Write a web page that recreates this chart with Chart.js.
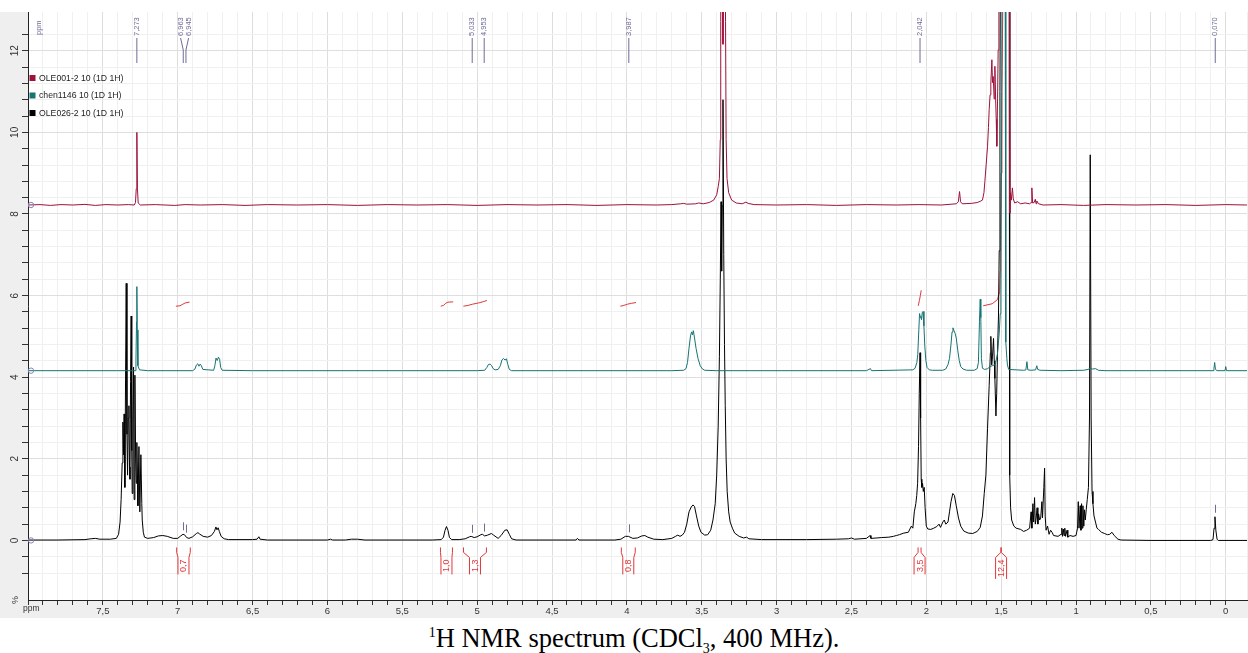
<!DOCTYPE html>
<html>
<head>
<meta charset="utf-8">
<script src="https://cdn.jsdelivr.net/npm/chart.js@4.4.1/dist/chart.umd.min.js"></script>
<style>
  body { margin: 0; background: #fff; }
  #wrap { position: relative; width: 1248px; height: 653px; }
  #chart { position: absolute; left: 0; top: 0; }
  #caption {
    position: absolute; left: 20px; width: 1228px; top: 623px;
    text-align: center; color: #000;
    font: 26.5px/30px "Liberation Serif", "Times New Roman", serif;
  }
  #caption sup, #caption sub { font-size: 14px; line-height: 0; }
</style>
</head>
<body>
<div id="wrap">
  <canvas id="chart" width="1248" height="618"></canvas>
  <div id="caption"><sup>1</sup>H NMR spectrum (CDCl<sub>3</sub>, 400 MHz).</div>
</div>
<script>
// axis ranges (ppm runs right to left)
const ppmMin = -0.142, ppmMax = 8.0;
const intMin = -1.46, intMax = 12.95;

const seriesNames = ['OLE001-2 10 (1D 1H)', 'chen1146 10 (1D 1H)', 'OLE026-2 10 (1D 1H)'];
const seriesColors = ['#9e1239', '#167473', '#000000'];
const seriesOffsets = [8.22, 4.16, 0];

// [ppm, intensity above the trace baseline]
const ole001 = [
  [8.00,0],[7.92,0.01],[7.85,-0.01],[7.78,0.01],[7.70,0],[7.62,0.015],[7.55,-0.01],[7.48,0.01],[7.40,0],[7.33,0.01],
  [7.29,0],[7.282,0.06],[7.277,0.4],[7.273,1.78],[7.269,0.4],[7.264,0.05],[7.25,0],[7.15,0.01],[7.02,-0.01],[6.95,0.01],
  [6.85,0],[6.70,0.01],[6.55,-0.01],[6.40,0.01],[6.20,0],[6.00,0.01],[5.80,-0.01],[5.60,0.01],[5.40,0],[5.20,0.01],
  [5.00,-0.01],[4.80,0.01],[4.60,0],[4.40,0.01],[4.20,-0.01],[4.00,0.01],[3.80,0],[3.70,0.01],[3.64,0.03],[3.62,0.04],
  [3.60,0.02],[3.54,0.03],[3.52,0.05],[3.49,0.03],[3.45,0.06],[3.42,0.12],[3.40,0.25],[3.39,0.45],[3.382,0.65],[3.376,1.6],
  [3.373,4.5],[3.370,8.5],[3.364,6.5],[3.358,3.94],[3.352,6.5],[3.345,8.5],[3.341,4.5],[3.337,1.6],[3.331,0.65],[3.32,0.3],
  [3.30,0.12],[3.27,0.05],[3.23,0.03],[3.205,0.07],[3.19,0.04],[3.15,0.01],[3.00,0],[2.80,0.01],[2.60,-0.01],[2.40,0.01],
  [2.20,0],[2.05,0.01],[1.90,0],[1.80,0.03],[1.786,0.08],[1.778,0.33],[1.771,0.08],[1.76,0.03],[1.70,0.04],[1.66,0.06],
  [1.64,0.09],[1.625,0.12],[1.615,0.3],[1.609,0.57],[1.60,1.0],[1.591,1.44],[1.585,1.9],[1.58,2.34],[1.574,2.7],[1.569,2.99],
  [1.562,3.56],[1.558,3.0],[1.553,3.15],[1.547,2.6],[1.542,3.4],[1.537,2.6],[1.533,2.1],[1.529,1.44],[1.524,2.6],[1.52,3.8],
  [1.515,5.5],[1.51,9],[1.50,14],[1.48,16],[1.46,16],[1.449,12],[1.445,6],[1.442,-0.2],[1.438,0.3],[1.432,0.12],
  [1.425,0.42],[1.419,0.15],[1.41,0.05],[1.39,0.08],[1.37,0.03],[1.34,0.05],[1.31,0.03],[1.30,0.06],[1.295,0.42],[1.29,0.05],
  [1.28,0.06],[1.272,0.14],[1.267,0.03],[1.262,0.1],[1.25,0.03],[1.22,0],[1.10,0.01],[0.95,-0.01],[0.80,0.01],[0.60,0],
  [0.40,0.01],[0.20,-0.01],[0.0,0.01],[-0.142,0]
];

const chen1146 = [
  [8.00,0],[7.40,0],[7.285,0],[7.279,0.25],[7.275,1.2],[7.273,2.06],[7.270,1.0],[7.266,0.12],[7.255,0.02],[7.20,0],
  [6.90,0],[6.885,0.04],[6.875,0.14],[6.866,0.17],[6.858,0.11],[6.850,0.16],[6.842,0.12],[6.832,0.03],[6.76,0.01],[6.752,0.12],
  [6.744,0.31],[6.736,0.25],[6.728,0.33],[6.720,0.28],[6.713,0.08],[6.703,0.01],[6.50,0],[5.50,0],[5.00,0],[4.95,0.01],
  [4.935,0.08],[4.925,0.15],[4.913,0.16],[4.903,0.12],[4.893,0.05],[4.88,0.02],[4.86,0.03],[4.845,0.12],[4.835,0.26],[4.824,0.3],
  [4.814,0.26],[4.804,0.29],[4.795,0.15],[4.785,0.03],[4.77,0],[3.70,0],[3.62,0.01],[3.605,0.05],[3.595,0.2],[3.585,0.55],
  [3.575,0.85],[3.568,0.95],[3.562,0.88],[3.556,0.98],[3.548,0.8],[3.538,0.55],[3.525,0.3],[3.51,0.12],[3.495,0.04],[3.48,0.01],
  [3.40,0],[2.40,0],[2.373,0.05],[2.366,0],[2.09,0.02],[2.075,0.06],[2.063,0.2],[2.057,0.4],[2.05,1.0],[2.045,1.4],
  [2.041,1.33],[2.036,1.3],[2.032,1.25],[2.027,1.42],[2.022,1.45],[2.016,1.1],[2.01,0.6],[2.003,0.25],[1.995,0.08],[1.98,0.02],
  [1.96,0.01],[1.89,0.01],[1.87,0.04],[1.855,0.15],[1.845,0.3],[1.835,0.65],[1.828,0.95],[1.822,1.05],[1.815,0.98],[1.808,0.92],
  [1.80,0.8],[1.79,0.5],[1.78,0.25],[1.77,0.1],[1.755,0.04],[1.73,0.01],[1.68,0.01],[1.66,0.05],[1.652,0.2],[1.645,1.2],
  [1.64,1.75],[1.636,1.3],[1.632,0.3],[1.625,0.06],[1.61,0.03],[1.59,0.05],[1.575,0.1],[1.56,0.12],[1.54,0.15],[1.525,0.4],
  [1.513,0.92],[1.506,1.4],[1.502,2.0],[1.497,6],[1.492,11],[1.485,14],[1.478,13],[1.473,9],[1.469,0.7],[1.462,0.3],
  [1.458,0.14],[1.45,0.03],[1.40,0.02],[1.35,0.01],[1.335,0.02],[1.328,0.22],[1.322,0.02],[1.30,0.01],[1.27,0.02],[1.262,0.12],
  [1.256,0.03],[1.24,0.01],[1.10,0],[0.95,0.01],[0.92,0.03],[0.905,0.06],[0.89,0.04],[0.87,0.05],[0.85,0.01],[0.80,0],
  [0.50,0],[0.085,0],[0.079,0.05],[0.074,0.2],[0.069,0.04],[0.06,0],[0.005,0],[0.0,0.1],[-0.005,0],[-0.142,0]
];

const ole026 = [
  [8.00,0.01],[7.80,0.01],[7.62,0.02],[7.58,0.04],[7.55,0.05],[7.52,0.03],[7.45,0.03],[7.41,0.05],[7.395,0.15],[7.385,0.45],
  [7.378,1.0],[7.371,1.9],[7.366,2.9],[7.362,2.1],[7.358,3.1],[7.353,1.3],[7.348,4.2],[7.344,6.3],[7.339,2.6],[7.335,1.6],
  [7.330,3.0],[7.326,3.3],[7.322,1.8],[7.319,1.5],[7.315,3.9],[7.311,5.5],[7.307,2.2],[7.304,1.15],[7.299,3.0],[7.295,4.25],
  [7.291,1.0],[7.286,4.05],[7.281,2.0],[7.277,1.4],[7.273,2.4],[7.269,1.6],[7.266,0.85],[7.259,2.3],[7.253,0.7],[7.246,2.1],
  [7.240,0.9],[7.237,0.5],[7.230,0.2],[7.222,0.08],[7.20,0.05],[7.16,0.07],[7.13,0.11],[7.10,0.12],[7.07,0.10],[7.03,0.05],
  [7.00,0.05],[6.98,0.11],[6.965,0.15],[6.955,0.14],[6.94,0.07],[6.925,0.05],[6.90,0.09],[6.875,0.17],[6.865,0.19],[6.855,0.16],
  [6.83,0.1],[6.80,0.08],[6.775,0.12],[6.755,0.22],[6.745,0.33],[6.738,0.26],[6.73,0.31],[6.722,0.22],[6.71,0.1],[6.69,0.04],
  [6.66,0.02],[6.50,0.02],[6.47,0.03],[6.458,0.09],[6.45,0.03],[6.40,0.01],[6.00,0.01],[5.98,0.03],[5.965,0.01],[5.88,0.01],
  [5.84,0.03],[5.80,0.03],[5.75,0.01],[5.30,0.01],[5.24,0.02],[5.225,0.08],[5.215,0.24],[5.205,0.34],[5.195,0.25],[5.185,0.07],
  [5.17,0.02],[5.12,0.02],[5.08,0.04],[5.05,0.09],[5.04,0.1],[5.02,0.07],[5.00,0.09],[4.975,0.14],[4.965,0.15],[4.95,0.11],
  [4.93,0.13],[4.905,0.17],[4.89,0.13],[4.86,0.05],[4.84,0.12],[4.815,0.25],[4.80,0.26],[4.785,0.15],[4.77,0.04],[4.74,0.01],
  [4.34,0.01],[4.33,0.05],[4.32,0.01],[4.08,0.01],[4.04,0.03],[4.01,0.1],[3.99,0.1],[3.96,0.05],[3.93,0.06],[3.90,0.11],
  [3.88,0.12],[3.86,0.08],[3.82,0.03],[3.76,0.02],[3.70,0.05],[3.675,0.1],[3.66,0.13],[3.645,0.1],[3.63,0.13],[3.615,0.2],
  [3.60,0.4],[3.585,0.7],[3.57,0.82],[3.558,0.87],[3.548,0.83],[3.535,0.6],[3.52,0.35],[3.505,0.2],[3.48,0.13],[3.46,0.14],
  [3.44,0.25],[3.425,0.5],[3.41,0.9],[3.40,1.6],[3.39,2.8],[3.382,4.5],[3.376,6.4],[3.371,8.3],[3.367,6.6],[3.363,8.2],
  [3.358,10.8],[3.353,7.0],[3.348,4.8],[3.343,3.3],[3.337,2.0],[3.33,1.2],[3.32,0.7],[3.31,0.45],[3.295,0.3],[3.28,0.18],
  [3.25,0.1],[3.22,0.06],[3.20,0.08],[3.185,0.04],[3.10,0.02],[2.80,0.02],[2.60,0.03],[2.52,0.04],[2.50,0.06],[2.48,0.03],
  [2.40,0.05],[2.375,0.12],[2.37,0.05],[2.33,0.06],[2.30,0.07],[2.25,0.08],[2.22,0.1],[2.20,0.12],[2.18,0.14],[2.15,0.18],
  [2.12,0.2],[2.10,0.35],[2.09,0.3],[2.08,0.7],[2.07,0.9],[2.064,1.1],[2.058,1.4],[2.052,2.3],[2.047,3.6],[2.042,4.6],
  [2.038,3.0],[2.034,1.5],[2.030,1.3],[2.025,1.4],[2.020,1.2],[2.014,1.3],[2.008,0.8],[2.00,0.35],[1.99,0.28],[1.97,0.27],
  [1.95,0.3],[1.93,0.34],[1.915,0.4],[1.905,0.32],[1.89,0.45],[1.88,0.5],[1.87,0.4],[1.855,0.45],[1.845,0.7],[1.835,0.95],
  [1.823,1.15],[1.812,1.1],[1.80,0.85],[1.785,0.55],[1.77,0.35],[1.75,0.23],[1.72,0.18],[1.69,0.17],[1.66,0.22],[1.64,0.32],
  [1.625,0.6],[1.613,1.15],[1.602,1.6],[1.591,2.75],[1.58,3.8],[1.572,4.6],[1.569,5.0],[1.563,4.3],[1.558,4.5],[1.551,4.95],
  [1.546,4.4],[1.542,3.97],[1.535,3.05],[1.53,3.6],[1.525,4.5],[1.518,5.5],[1.513,7.1],[1.508,11],[1.503,16],[1.49,19],
  [1.47,20],[1.455,18],[1.447,15],[1.444,6],[1.442,1.6],[1.437,0.8],[1.43,0.5],[1.415,0.35],[1.40,0.3],[1.37,0.27],
  [1.35,0.22],[1.33,0.25],[1.31,0.3],[1.30,0.7],[1.295,0.3],[1.288,0.9],[1.283,0.45],[1.277,1.05],[1.272,0.4],[1.266,0.55],
  [1.26,0.8],[1.255,0.4],[1.25,0.65],[1.243,0.5],[1.236,0.55],[1.228,0.95],[1.224,0.55],[1.215,1.3],[1.21,1.77],[1.206,0.6],
  [1.20,0.25],[1.19,0.35],[1.18,0.15],[1.17,0.25],[1.16,0.2],[1.15,0.12],[1.12,0.1],[1.10,0.15],[1.095,0.3],[1.09,0.1],
  [1.085,0.28],[1.08,0.12],[1.075,0.3],[1.07,0.1],[1.06,0.25],[1.055,0.08],[1.04,0.12],[1.02,0.1],[1.00,0.12],[0.99,0.3],
  [0.985,0.95],[0.98,0.3],[0.972,0.85],[0.967,0.25],[0.963,0.9],[0.958,0.3],[0.954,0.85],[0.948,0.35],[0.944,0.75],[0.938,0.5],
  [0.932,0.75],[0.925,1.0],[0.917,1.3],[0.91,3.0],[0.905,9.45],[0.899,3.0],[0.893,1.2],[0.887,0.9],[0.88,0.6],[0.87,0.45],
  [0.86,0.3],[0.85,0.27],[0.83,0.2],[0.81,0.17],[0.79,0.14],[0.775,0.15],[0.76,0.2],[0.745,0.12],[0.72,0.03],[0.70,0.01],
  [0.50,0],[0.10,0],[0.085,0.02],[0.078,0.3],[0.072,0.58],[0.066,0.25],[0.058,0.03],[0.05,0],[-0.142,0]
];

// integral curves [ppm, height] and their brackets
const integralCurves = [
  [[7.012,5.74],[6.985,5.75],[6.97,5.78],[6.95,5.82],[6.921,5.84]],
  [[5.243,5.74],[5.225,5.76],[5.21,5.81],[5.195,5.84],[5.16,5.845]],
  [[5.092,5.74],[5.06,5.76],[5.03,5.79],[4.99,5.82],[4.96,5.85],[4.935,5.88]],
  [[4.044,5.74],[4.02,5.76],[3.995,5.79],[3.97,5.81],[3.939,5.83]],
  [[2.054,5.75],[2.046,5.88],[2.040,6.0],[2.034,6.13]],
  [[1.62,5.75],[1.56,5.8],[1.525,5.9],[1.51,6.1],[1.506,6.6],[1.504,7.5],[1.50,9],[1.495,11],[1.488,13.5]]
];
const integralFrom = [7.007, 5.245, 5.091, 4.037, 2.055, 1.502];
const integralTo = [6.916, 5.165, 4.938, 3.944, 2.035, 1.499];
const integralLabels = ['0,7', '1,0', '1,3', '0,8', '3,5', '12,4'];

const peakPicks = [7.273, 6.963, 6.945, 5.033, 4.953, 3.987, 2.042, 0.070];
const pickMarks = [6.963, 6.945, 5.033, 4.953, 3.987, 0.070];

const SANS = '"Liberation Sans", Arial, sans-serif';
const SLATE = '#6d6d98';
const RED = '#e0383a';

const datasets = [ole001, chen1146, ole026].map((pts, i) => ({
  label: seriesNames[i],
  data: pts.map(([p, v]) => ({ x: p, y: v + seriesOffsets[i] })),
  borderColor: seriesColors[i],
  borderWidth: 1,
  showLine: true,
  pointRadius: 0
}));
integralCurves.forEach(curve => datasets.push({
  label: 'integral',
  data: curve.map(([p, v]) => ({ x: p, y: v })),
  borderColor: RED,
  borderWidth: 1,
  showLine: true,
  pointRadius: 0
}));

function near(a, b) { return Math.abs(a - b) < 1e-6; }
function isStep(v, s) { return near(v / s, Math.round(v / s)); }

function traceValueAt(pts, p) {
  let best = -Infinity;
  for (let i = 0; i < pts.length - 1; i++) {
    const [p1, v1] = pts[i], [p2, v2] = pts[i + 1];
    if (Math.abs(p1 - p) <= 0.004) best = Math.max(best, v1);
    if (p1 >= p && p2 <= p) {
      const t = (p1 - p) / (p1 - p2 || 1);
      best = Math.max(best, v1 + (v2 - v1) * t);
    }
  }
  return best;
}

function rotatedText(ctx, text, x, y, align) {
  ctx.save();
  ctx.translate(x, y);
  ctx.rotate(-Math.PI / 2);
  ctx.textAlign = align;
  ctx.textBaseline = 'middle';
  ctx.fillText(text, 0, 0);
  ctx.restore();
}

const frame = {
  id: 'frame',
  beforeDraw(chart) {
    const { ctx, chartArea: a } = chart;
    ctx.save();
    ctx.fillStyle = '#efefef';
    ctx.fillRect(0, a.top, chart.width, chart.height - a.top);
    ctx.fillStyle = '#ffffff';
    ctx.fillRect(a.left, a.top, a.right - a.left, a.bottom - a.top);
    ctx.restore();
  },
  afterDraw(chart) {
    const { ctx, chartArea: a, scales: { x, y } } = chart;
    ctx.save();

    // y tick labels, rotated
    ctx.fillStyle = '#333';
    ctx.font = '10px ' + SANS;
    for (let v = 0; v <= 12; v += 2) rotatedText(ctx, String(v), 15, y.getPixelForValue(v), 'center');
    ctx.font = '9px ' + SANS;
    rotatedText(ctx, '%', 16, 600, 'center');
    ctx.font = '8.5px ' + SANS;
    ctx.textAlign = 'left';
    ctx.textBaseline = 'middle';
    ctx.fillText('ppm', 23, 609);

    // baseline handles
    ctx.strokeStyle = '#8a8ab8';
    ctx.lineWidth = 1;
    seriesOffsets.forEach(o => {
      ctx.beginPath();
      ctx.arc(a.left + 3, y.getPixelForValue(o), 2.7, 0, Math.PI * 2);
      ctx.stroke();
    });

    // legend
    ctx.font = '8.7px ' + SANS;
    chart.data.datasets.slice(0, 3).forEach((ds, i) => {
      const cy = 78 + i * 17.5;
      ctx.fillStyle = ds.borderColor;
      ctx.fillRect(29.5, cy - 3, 6, 6);
      ctx.fillStyle = '#222';
      ctx.textAlign = 'left';
      ctx.fillText(ds.label, 39, cy + 0.5);
    });

    // peak picking labels along the top
    ctx.fillStyle = SLATE;
    ctx.strokeStyle = SLATE;
    ctx.font = '7.5px ' + SANS;
    rotatedText(ctx, 'ppm', 38.5, 35, 'left');
    const px = peakPicks.map(p => x.getPixelForValue(p));
    const lx = px.slice();
    for (let i = 1; i < lx.length; i++) {
      if (lx[i] - lx[i - 1] < 8) {
        const mid = (lx[i] + lx[i - 1]) / 2;
        lx[i - 1] = mid - 4;
        lx[i] = mid + 4;
      }
    }
    peakPicks.forEach((p, i) => {
      rotatedText(ctx, p.toFixed(3).replace('.', ','), lx[i], 36, 'left');
      ctx.beginPath();
      ctx.moveTo(lx[i], 38);
      ctx.lineTo(px[i], 50);
      ctx.lineTo(px[i], 63);
      ctx.stroke();
    });

    // small pick marks above the lowest trace
    pickMarks.forEach(p => {
      const xp = Math.round(x.getPixelForValue(p)) + 0.5;
      const yp = y.getPixelForValue(traceValueAt(ole026, p));
      ctx.beginPath();
      ctx.moveTo(xp, yp - 4);
      ctx.lineTo(xp, yp - 12);
      ctx.stroke();
    });

    // integral brackets under the baseline
    const y0 = y.getPixelForValue(0);
    ctx.strokeStyle = RED;
    ctx.fillStyle = RED;
    ctx.font = '9px ' + SANS;
    integralFrom.forEach((from, i) => {
      const xa = x.getPixelForValue(from), xb = x.getPixelForValue(integralTo[i]);
      const mid = (xa + xb) / 2;
      const top = y0 + 7, bend = y0 + 12, foot = y0 + 17;
      const len = ctx.measureText(integralLabels[i]).width;
      const bottom = Math.max(foot + 17, foot + len + 4);
      ctx.beginPath();
      [[xa, mid - 5.5], [xb, mid + 5.5]].forEach(([tx, bx]) => {
        ctx.moveTo(tx, top);
        ctx.lineTo(tx, bend);
        ctx.lineTo(bx, foot);
        ctx.lineTo(bx, bottom);
      });
      ctx.stroke();
      rotatedText(ctx, integralLabels[i], mid + 0.5, foot + 2, 'right');
    });

    ctx.restore();
  }
};

new Chart(document.getElementById('chart'), {
  type: 'scatter',
  data: { datasets },
  options: {
    responsive: false,
    animation: false,
    events: [],
    layout: { padding: { top: 12, left: 0, right: 0, bottom: 0 } },
    plugins: { legend: { display: false }, tooltip: { enabled: false } },
    scales: {
      x: {
        type: 'linear',
        reverse: true,
        min: ppmMin,
        max: ppmMax,
        afterFit: s => { s.height = 18; },
        border: { color: '#222' },
        grid: {
          tickLength: 5,
          tickColor: c => isStep(c.tick.value, 0.1) ? '#333' : 'rgba(0,0,0,0)',
          color: c => isStep(c.tick.value, 0.5) ? '#dedede' : (isStep(c.tick.value, 0.1) ? '#f0f0f0' : 'rgba(0,0,0,0)')
        },
        ticks: {
          stepSize: 0.1,
          autoSkip: false,
          maxRotation: 0,
          padding: 1,
          color: '#333',
          font: { family: SANS, size: 9.5 },
          callback: v => (isStep(v, 0.5) && v < 7.9) ? String(v).replace('.', ',') : ''
        }
      },
      y: {
        min: intMin,
        max: intMax,
        afterFit: s => { s.width = 28; },
        border: { color: '#222' },
        grid: {
          tickLength: 6,
          tickColor: c => isStep(c.tick.value, 0.4) ? '#333' : 'rgba(0,0,0,0)',
          color: c => isStep(c.tick.value, 2) ? '#dedede' : (isStep(c.tick.value, 0.4) ? '#f0f0f0' : 'rgba(0,0,0,0)')
        },
        ticks: { stepSize: 0.4, display: false }
      }
    }
  },
  plugins: [frame]
});
</script>
</body>
</html>
